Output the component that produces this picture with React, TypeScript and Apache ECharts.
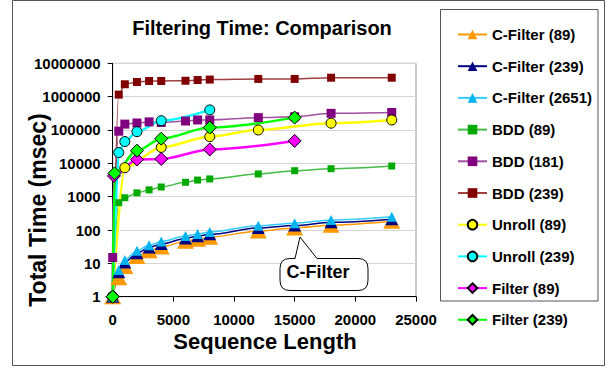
import React, { useEffect, useRef } from "react";
import * as echarts from "echarts";

// ---- data ----
const lenAll = [0, 500, 1000, 2000, 3000, 4000, 6000, 7000, 8000, 12000, 15000, 18000, 23000];
const cFilter89 = [1, 3.7, 8, 16, 24, 31, 46, 53, 61, 93, 115, 140, 183];
const cFilter239 = [1, 5.4, 10.7, 20, 30, 38, 56, 65, 74, 115, 136, 170, 212];
const cFilter2651 = [1, 6.3, 12.6, 24, 35, 45, 66, 76, 87, 135, 160, 200, 250];
const bdd89 = [1, 660, 930, 1300, 1600, 1950, 2700, 3150, 3400, 4800, 6000, 6900, 8300];
const bdd181 = [15, 92000, 150000, 162000, 175000, 168000, 186000, 200000, 200000, 235000, 250000, 316000, 335000];
const bdd239 = [1, 1150000, 2350000, 2750000, 2950000, 2950000, 3000000, 3150000, 3250000, 3400000, 3400000, 3700000, 3700000];
const lenUnroll89 = [0, 1000, 4000, 8000, 12000, 18000, 23000];
const unroll89 = [1, 7400, 30000, 63000, 100000, 160000, 200000];
const lenUnroll239 = [0, 500, 1000, 2000, 4000, 8000];
const unroll239 = [1, 21000, 45000, 89000, 190000, 400000];
const lenFilter89 = [0, 100, 2000, 4000, 8000, 15000];
const filter89 = [1, 4200, 13000, 13500, 26000, 47000];
const lenFilter239 = [0, 150, 2000, 4000, 8000, 15000];
const filter239 = [1, 5000, 24000, 55000, 118000, 235000];

const xTicks = { min: 0, max: 25000, interval: 5000 };
const yTicks = { min: 1, max: 10000000 };

const FONT = '"Liberation Sans", Arial, sans-serif';

const calloutPath =
  "M 290 258.5 L 295 258.5 L 300 237 L 317 258.5 L 358 258.5 Q 368 258.5 368 268.5 L 368 280.5 Q 368 290.5 358 290.5 L 290 290.5 Q 280 290.5 280 280.5 L 280 268.5 Q 280 258.5 290 258.5 Z";
echarts.graphic.registerShape("callout", echarts.graphic.extendPath(calloutPath, {}) as any);

const pairs = (xs: number[], ys: number[]) => xs.map((x, i) => [x, ys[i]]);

type SDef = {
  name: string;
  xs: number[];
  ys: number[];
  symbol: string;
  size: number | number[];
  fill: string;
  border?: string;
  line: string;
  width: number;
};

const defs: SDef[] = [
  { name: "C-Filter (89)", xs: lenAll, ys: cFilter89, symbol: "triangle", size: [17, 15], fill: "#FF9900", line: "#FF9900", width: 1.5 },
  { name: "C-Filter (239)", xs: lenAll, ys: cFilter239, symbol: "triangle", size: [13, 12], fill: "#000080", line: "#000080", width: 1.5 },
  { name: "C-Filter (2651)", xs: lenAll, ys: cFilter2651, symbol: "triangle", size: [10, 10], fill: "#00B4F0", line: "#33CCFF", width: 1.5 },
  { name: "BDD (89)", xs: lenAll, ys: bdd89, symbol: "rect", size: 7, fill: "#00AA00", line: "#44BB44", width: 1.5 },
  { name: "BDD (181)", xs: lenAll, ys: bdd181, symbol: "rect", size: 9, fill: "#800080", line: "#A050A0", width: 1.5 },
  { name: "BDD (239)", xs: lenAll, ys: bdd239, symbol: "rect", size: 8, fill: "#800000", line: "#A04040", width: 1.5 },
  { name: "Unroll (89)", xs: lenUnroll89, ys: unroll89, symbol: "circle", size: 10, fill: "#FFFF00", border: "#000", line: "#FFFF00", width: 2.5 },
  { name: "Unroll (239)", xs: lenUnroll239, ys: unroll239, symbol: "circle", size: 10, fill: "#00FFFF", border: "#000", line: "#00FFFF", width: 2.5 },
  { name: "Filter (89)", xs: lenFilter89, ys: filter89, symbol: "diamond", size: 13, fill: "#FF00FF", border: "#000", line: "#FF00FF", width: 2.5 },
  { name: "Filter (239)", xs: lenFilter239, ys: filter239, symbol: "diamond", size: 13, fill: "#00FF00", border: "#000", line: "#00FF00", width: 2.5 },
];

const option: any = {
  animation: false,
  backgroundColor: "#fff",
  grid: {
    left: 112.7,
    right: 197,
    top: 63.3,
    bottom: 71.3,
    show: true,
    borderColor: "#999",
    borderWidth: 1,
  },
  xAxis: {
    type: "value",
    ...xTicks,
    axisLine: { onZero: false, lineStyle: { color: "#000", width: 1 } },
    axisTick: { show: true, length: 5, lineStyle: { color: "#000" } },
    axisLabel: {
      margin: 15,
      fontSize: 15,
      fontWeight: "bold",
      color: "#000",
      fontFamily: FONT,
      formatter: (v: number) => String(Math.round(v)),
    },
    splitLine: { show: false },
  },
  yAxis: {
    type: "log",
    logBase: 10,
    ...yTicks,
    axisLine: { show: true, lineStyle: { color: "#000", width: 1 } },
    axisTick: { show: true, length: 5, lineStyle: { color: "#000" } },
    axisLabel: {
      margin: 12,
      fontSize: 15,
      fontWeight: "bold",
      color: "#000",
      fontFamily: FONT,
      formatter: (v: number) => String(Math.round(v)),
    },
    splitLine: { show: true, lineStyle: { color: "#d4d4d4", width: 1 } },
  },
  legend: {
    orient: "vertical",
    left: 452,
    top: 22,
    itemWidth: 29,
    itemHeight: 12,
    itemGap: 16.7,
    textStyle: { fontSize: 15, fontWeight: "bold", color: "#000", fontFamily: FONT, lineHeight: 12 },
    data: defs.map((d) => d.name),
  },
  series: defs.map((d) => ({
    name: d.name,
    type: "line",
    data: pairs(d.xs, d.ys),
    symbol: d.symbol,
    symbolSize: d.size,
    smooth: 0.3,
    smoothMonotone: "x",
    clip: false,
    itemStyle: { color: d.fill, borderColor: d.border || d.fill, borderWidth: d.border ? 1 : 0, opacity: 1 },
    lineStyle: { color: d.line, width: d.width },
    emphasis: { disabled: true },
  })),
  graphic: [
    {
      type: "rect",
      shape: { x: 12.5, y: 0.5, width: 592, height: 365 },
      style: { fill: "none", stroke: "#555", lineWidth: 1 },
      silent: true,
    },
    {
      type: "rect",
      shape: { x: 440.5, y: 9.5, width: 157.5, height: 291.5 },
      style: { fill: "none", stroke: "#555", lineWidth: 1 },
      silent: true,
    },
    {
      type: "text",
      x: 262,
      y: 28,
      style: { text: "Filtering Time: Comparison", fontSize: 20, fontWeight: "bold", fontFamily: FONT, fill: "#000", align: "center", verticalAlign: "middle" },
    },
    {
      type: "text",
      x: 38,
      y: 210,
      rotation: Math.PI / 2,
      style: { text: "Total Time (msec)", fontSize: 23, fontWeight: "bold", fontFamily: FONT, fill: "#000", align: "center", verticalAlign: "middle" },
    },
    {
      type: "text",
      x: 265,
      y: 341,
      style: { text: "Sequence Length", fontSize: 22, fontWeight: "bold", fontFamily: FONT, fill: "#000", align: "center", verticalAlign: "middle" },
    },
    {
      type: "callout",
      z: 100,
      x: 0,
      y: 0,
      style: { fill: "#fff", stroke: "#000", lineWidth: 1 },
    },
    {
      type: "text",
      z: 101,
      x: 318,
      y: 272,
      style: { text: "C-Filter", fontSize: 18, fontWeight: "bold", fontFamily: FONT, fill: "#000", align: "center", verticalAlign: "middle" },
    },
  ],
};

export default function App() {
  const ref = useRef<HTMLDivElement>(null);
  useEffect(() => {
    document.body.style.margin = "0";
    const chart = echarts.init(ref.current!, null, { renderer: "svg" });
    chart.setOption(option);
    return () => chart.dispose();
  }, []);
  return <div ref={ref} style={{ width: 613, height: 368, position: "fixed", left: 0, top: 0 }} />;
}
